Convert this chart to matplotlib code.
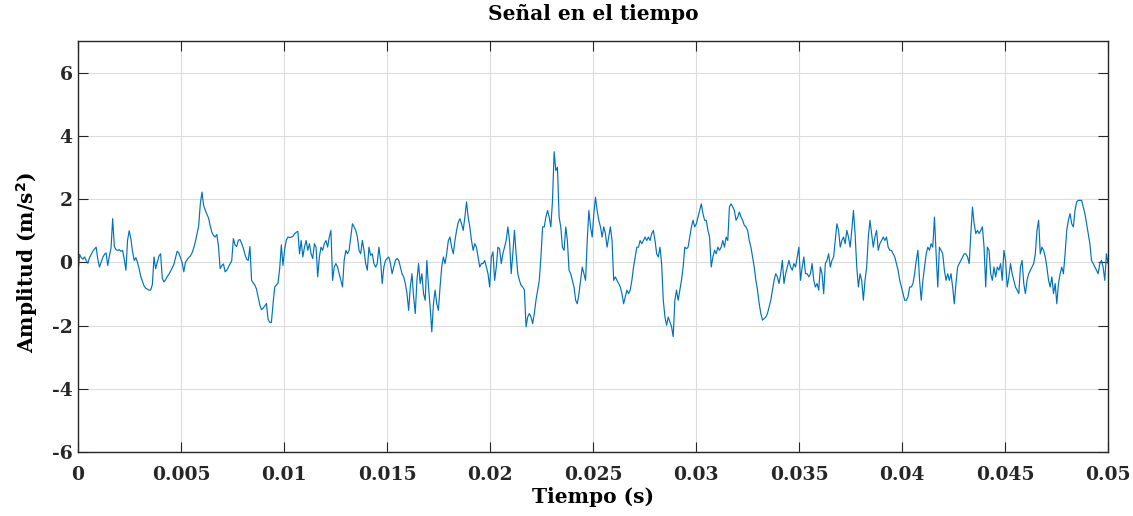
import numpy as np
import matplotlib
matplotlib.use("Agg")
import matplotlib.pyplot as plt

# Acceleration signal (m/s^2), uniformly sampled over 0-50 ms
amplitude = [
    # 0 - 10.8 ms
    -0.36, 0.25, 0.15, 0.10, 0.17, 0.05, -0.03, 0.15, 0.25, 0.35, 0.42, 0.48, 0.10, -0.15,
    0.00, 0.15, 0.25, 0.30, -0.10, 0.20, 0.45, 1.38, 0.50, 0.40, 0.38, 0.40, 0.35, 0.38,
    0.10, -0.25, 0.70, 1.00, 0.75, 0.35, 0.06, 0.15, 0.00, -0.20, -0.45, -0.60, -0.75,
    -0.82, -0.85, -0.88, -0.88, -0.70, 0.17, -0.20, 0.00, 0.20, 0.27, -0.50, -0.62, -0.55,
    -0.45, -0.38, -0.28, -0.18, -0.06, 0.15, 0.35, 0.30, 0.15, 0.00, -0.30, 0.00, 0.08,
    0.15, 0.20, 0.30, 0.45, 0.65, 0.90, 1.15, 1.85, 2.22, 1.80, 1.65, 1.52, 1.40, 1.15,
    0.95, 0.85, 0.80, 0.88, 0.50, -0.20, -0.10, -0.05, -0.30, -0.25, -0.15, -0.05, 0.05,
    0.75, 0.55, 0.50, 0.70, 0.72, 0.60, 0.45, 0.25, 0.10, 0.06, 0.50, -0.57, -0.65, -0.72,
    -0.85, -1.10, -1.35, -1.50, -1.45, -1.38, -1.30, -1.80, -1.90, -1.90, -1.30, -0.78,
    -0.72, -0.65, -0.20, 0.55, -0.10, 0.40, 0.70, 0.80, 0.78, 0.80, 0.82, 0.90, 0.95, 0.98,
    # 10.8 - 13.5 ms
    0.27, 0.69, 0.17, 0.48, 0.69, 0.38, 0.59, 0.27, 0.12, 0.59, 0.48, -0.46, 0.17, 0.48,
    0.38, 0.59, 0.69, 0.48, 0.80, 1.01, -0.57, -0.15, -0.04, -0.15, -0.36, -0.57, -0.78,
    0.06, 0.38, 0.27, 0.38, 0.80, 1.22, 1.12,
    # 13.5 - 18.1 ms
    1.01, 0.80, 0.38, 0.27, 0.69, 0.38, -0.04, -0.25, 0.48, 0.22, 0.27, -0.04, -0.15, -0.04,
    0.48, 0.06, -0.67, -0.15, 0.06, 0.12, 0.17, -0.04, -0.36, -0.15, 0.06, 0.12, 0.06,
    -0.15, -0.36, -0.46, -0.67, -0.99, -1.52, -0.78, -0.36, -1.09, -1.62, -0.57, -0.04,
    -0.67, -0.36, -0.99, -1.20, 0.06, -0.78, -1.41, -2.20, -1.31, -0.88, -1.31, -1.52,
    -0.78, -0.15, 0.17, -0.04, 0.27, 0.69,
    # 18.1 - 22.6 ms
    0.80, 0.48, 0.27, 0.69, 1.01, 1.27, 1.38, 1.22, 1.01, 1.43, 1.91, 1.43, 1.12, 0.69,
    0.38, 0.59, 0.48, 0.17, -0.15, -0.04, -0.04, 0.06, -0.15, -0.36, -0.78, 0.17, 0.33,
    -0.57, -0.15, 0.48, 0.43, -0.04, 0.27, 0.48, 0.69, 1.12, 0.69, -0.36, 0.27, 1.01, 0.27,
    -0.36, -0.57, -0.73, -0.78, -0.88, -2.04, -1.73, -1.62, -1.73, -1.94, -1.62, -1.20,
    -0.88, -0.57, 0.17, 1.12,
    # 22.6 - 27.2 ms
    1.12, 1.43, 1.64, 1.43, 1.12, 1.96, 3.50, 2.90, 3.01, 1.43, 1.12, 0.48, 0.38, 1.12,
    0.69, -0.25, -0.36, -0.57, -0.78, -1.20, -1.31, -0.99, -0.57, -0.15, -0.36, -0.57,
    0.69, 1.64, 1.12, 0.80, 1.54, 2.06, 1.64, 1.33, 1.12, 0.80, 1.12, 0.91, 0.48, 0.80,
    1.12, 0.69, -0.57, -0.46, -0.57, -0.67, -0.78, -0.99, -1.31, -1.09, -0.88, -0.99,
    -0.88, -0.57, -0.15, 0.17, 0.48,
    # 27.2 - 31.7 ms
    0.48, 0.69, 0.59, 0.69, 0.80, 0.69, 0.80, 0.69, 0.91, 1.01, 0.69, 0.27, 0.17, 0.48,
    -0.04, -1.20, -1.73, -1.99, -1.73, -1.88, -2.04, -2.35, -1.20, -0.88, -1.20, -0.88,
    -0.57, -0.15, 0.48, 0.43, 0.48, 0.80, 1.12, 1.33, 1.12, 1.22, 1.43, 1.64, 1.85, 1.54,
    1.33, 1.33, 1.01, 0.80, -0.15, 0.17, 0.38, 0.27, 0.48, 0.38, 0.48, 0.69, 0.48, 0.80,
    0.69, 1.75, 1.85,
    # 31.7 - 36.3 ms
    1.75, 1.64, 1.33, 1.43, 1.59, 1.43, 1.33, 1.17, 1.12, 1.01, 0.69, 0.48, 0.17, -0.15,
    -0.57, -0.88, -1.31, -1.62, -1.83, -1.78, -1.73, -1.62, -1.41, -1.20, -0.88, -0.57,
    -0.36, -0.46, -0.67, -0.36, 0.06, -0.67, -0.36, -0.15, 0.06, -0.15, -0.25, -0.04,
    -0.15, 0.17, 0.48, -0.57, -0.15, 0.17, -0.36, -0.36, -0.46, -0.36, -0.04, -0.57,
    -0.78, -0.67, -0.88, -0.15, -0.36, -0.99, -0.04,
    # 36.3 - 40.9 ms
    0.06, 0.27, -0.15, 0.06, 0.17, 0.69, 1.22, 1.01, 0.48, 0.69, 0.80, 0.59, 1.01, 0.80,
    0.48, 1.01, 1.64, 0.91, -0.15, -0.78, -0.36, -0.57, -1.20, -0.57, -0.15, 0.80, 1.33,
    0.91, 0.48, 0.80, 1.01, 0.38, 0.59, 0.69, 0.80, 0.69, 0.80, 0.48, 0.38, 0.38, 0.27,
    0.17, -0.04, -0.25, -0.57, -0.78, -0.99, -1.20, -1.20, -1.09, -0.78, -0.78, -0.67,
    -0.36, 0.06, 0.38, -0.57,
    # 40.9 - 45.4 ms
    -1.20, -0.57, -0.15, 0.27, 0.48, 0.38, 0.59, 0.48, 1.43, 0.27, -0.78, 0.48, 0.38, 0.27,
    -0.25, -0.57, -0.36, -0.57, -0.36, -0.78, -1.31, -0.67, -0.15, -0.04, 0.06, 0.17, 0.27,
    0.27, 0.17, -0.04, 0.91, 1.75, 1.22, 0.91, 1.01, 0.91, 1.01, 1.12, 0.48, -0.78, 0.48,
    0.38, -0.36, -0.57, -0.15, -0.46, -0.15, -0.25, -0.04, -0.57, 0.38, 0.06, -0.78, -0.46,
    -0.04, -0.36, -0.57,
    # 45.4 - 50 ms
    -0.78, -0.88, -0.99, -0.15, 0.06, -0.67, -0.99, -0.57, -0.36, -0.25, -0.15, -0.04,
    0.27, 1.01, 1.33, 0.27, 0.48, 0.38, 0.17, -0.15, -0.57, -0.78, -0.46, -0.99, -0.67,
    -1.31, -0.67, -0.36, -0.15, -0.36, 0.27, 1.01, 1.33, 1.54, 1.22, 1.12, 1.64, 1.91,
    1.96, 1.96, 1.96, 1.75, 1.54, 1.22, 0.91, 0.59, 0.06, -0.04, -0.15, -0.25, -0.36,
    -0.04, 0.06, -0.15, -0.57, 0.27, -0.04,
]
t_start, t_end = 0.0, 0.05
time = np.linspace(t_start, t_end, len(amplitude))

x_ticks = [0, 0.005, 0.01, 0.015, 0.02, 0.025, 0.03, 0.035, 0.04, 0.045, 0.05]
x_tick_labels = ["0", "0.005", "0.01", "0.015", "0.02", "0.025", "0.03",
                 "0.035", "0.04", "0.045", "0.05"]
y_ticks = [-6, -4, -2, 0, 2, 4, 6]
y_tick_labels = ["-6", "-4", "-2", "0", "2", "4", "6"]

plt.rcParams["font.family"] = ["DejaVu Serif"]
plt.rcParams["font.weight"] = "bold"
plt.rcParams["axes.unicode_minus"] = False

fig = plt.figure(figsize=(11.33, 5.16), dpi=100)
ax = fig.add_axes([0.0688, 0.124, 0.9092, 0.7965])

ax.plot(time, amplitude, color="#0072BD", linewidth=0.85)

ax.set_xlim(0, 0.05)
ax.set_ylim(-6, 7)
ax.set_xticks(x_ticks)
ax.set_xticklabels(x_tick_labels, fontsize=13.5, fontweight="bold", color="#262626")
ax.set_yticks(y_ticks)
ax.set_yticklabels(y_tick_labels, fontsize=13.5, fontweight="bold", color="#262626")

ax.grid(True, color="#dcdcdc", linewidth=0.8)
ax.set_axisbelow(True)
ax.tick_params(direction="in", length=7, width=0.8, colors="#262626",
               top=True, right=True)
ax.tick_params(axis="x", pad=10)
ax.tick_params(axis="y", pad=4)
for s in ax.spines.values():
    s.set_color("#262626")
    s.set_linewidth(1.0)

ax.set_title("Señal en el tiempo", fontsize=14.5, fontweight="bold", pad=15)
ax.set_xlabel("Tiempo (s)", fontsize=14.5, fontweight="bold", labelpad=2)
ax.set_ylabel("Amplitud (m/s$^\\mathbf{2}$)", fontsize=14.5, fontweight="bold")
ax.yaxis.set_label_coords(-0.037, 0.46)

fig.savefig("out.png", dpi=100)
